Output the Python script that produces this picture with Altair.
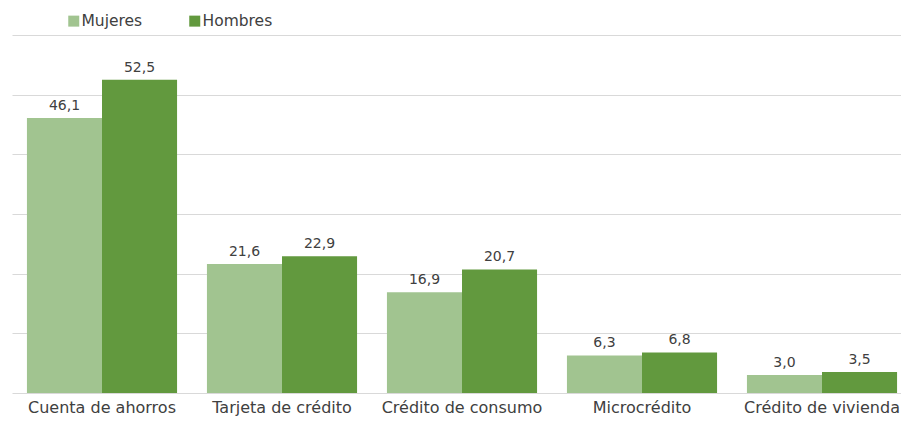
import altair as alt
import pandas as pd

categorias = ["Cuenta de ahorros", "Tarjeta de crédito", "Crédito de consumo", "Microcrédito", "Crédito de vivienda"]
mujeres = [46.1, 21.6, 16.9, 6.3, 3.0]
hombres = [52.5, 22.9, 20.7, 6.8, 3.5]
series = ["Mujeres", "Hombres"]
colores = ["#A1C490", "#62993E"]

rows = []
for c, m, h in zip(categorias, mujeres, hombres):
    for s, v in zip(series, [m, h]):
        rows.append({"categoria": c, "serie": s, "valor": v,
                     "etiqueta": f"{v:.1f}".replace(".", ",")})
df = pd.DataFrame(rows)

FONT = "DejaVu Sans"
TXT = "#404040"

x = alt.X("categoria:N", sort=categorias, title=None,
          scale=alt.Scale(paddingInner=0.166, paddingOuter=0.083, range=[1, 901]),
          axis=alt.Axis(labelAngle=0, ticks=False, domain=False, labelPadding=6,
                        labelFont=FONT, labelFontSize=16, labelColor=TXT, grid=False))
y = alt.Y("valor:Q", title=None, scale=alt.Scale(domain=[0, 60], nice=False),
          axis=alt.Axis(values=[0, 10, 20, 30, 40, 50, 60], labels=False, ticks=False,
                        domain=False, grid=True, gridColor="#D9D9D9", gridWidth=1))
xo = alt.XOffset("serie:N", sort=series, scale=alt.Scale(paddingInner=0, paddingOuter=0))

bars = alt.Chart(df).mark_bar().encode(
    x=x, y=y, xOffset=xo,
    color=alt.Color("serie:N", sort=series,
                    scale=alt.Scale(domain=series, range=colores),
                    legend=alt.Legend(title=None, orient="none", direction="horizontal",
                                      legendX=55, legendY=-22, symbolType="square",
                                      symbolSize=121, symbolStrokeWidth=0,
                                      labelFont=FONT, labelFontSize=15.5, labelColor=TXT,
                                      columnPadding=44, labelOffset=0)),
)

labels = alt.Chart(df).mark_text(baseline="alphabetic", dy=-8, font=FONT, fontSize=14, color=TXT).encode(
    x=x, y=y, xOffset=xo, text="etiqueta:N"
)

chart = (bars + labels).properties(
    width=890, height=358,
    autosize=alt.AutoSizeParams(type="none"),
    padding={"left": 3, "top": 27, "right": 0, "bottom": 23},
).configure_view(stroke=None)

chart.save("out.html", embed_options={"renderer": "svg", "actions": False})
